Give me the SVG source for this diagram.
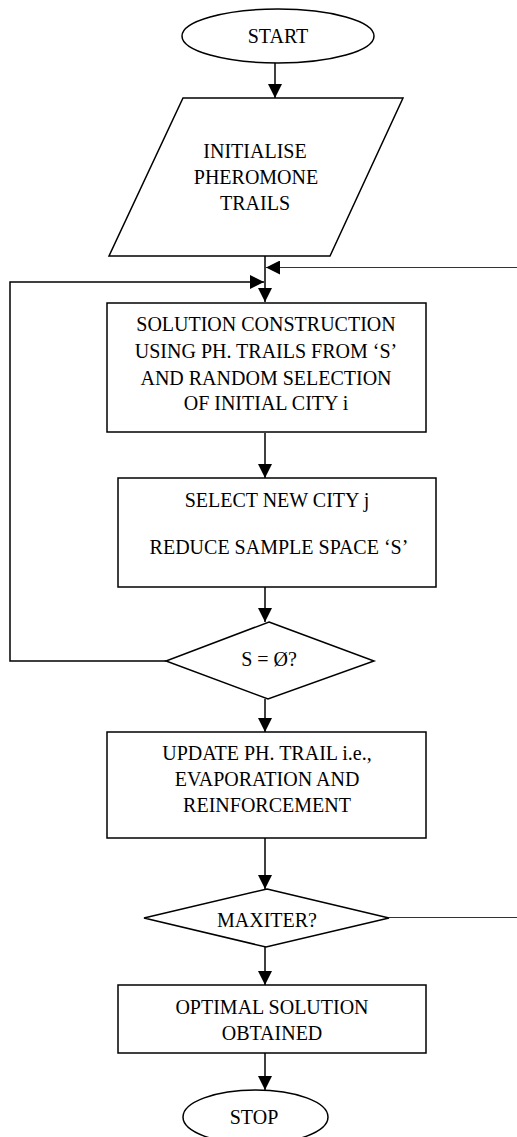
<svg xmlns="http://www.w3.org/2000/svg" width="517" height="1137" viewBox="0 0 517 1137">
<defs>
<marker id="ah" viewBox="0 0 14 14" refX="14" refY="7" markerWidth="14" markerHeight="14" markerUnits="userSpaceOnUse" orient="auto">
<path d="M0,0 L14,7 L0,14 Z" fill="#000"/>
</marker>
<style>
.s{fill:#fff;stroke:#000;stroke-width:1.5}
.t{font-family:"Liberation Serif","Times New Roman",serif;font-size:20px;fill:#000;text-anchor:middle}
.c{fill:none;stroke:#000;stroke-width:1.5}
.g{fill:none;stroke:#333;stroke-width:1}
</style>
</defs>
<rect width="517" height="1137" fill="#fff"/>
<g id="connectors">
<line class="c" x1="275" y1="63" x2="275" y2="98" marker-end="url(#ah)"/>
<line class="c" x1="265" y1="256" x2="265" y2="302" marker-end="url(#ah)"/>
<line class="g" x1="517" y1="267.5" x2="266" y2="267.5" marker-end="url(#ah)"/>
<polyline class="c" points="166,661 10,661 10,282 264,282" marker-end="url(#ah)"/>
<line class="c" x1="265" y1="433" x2="265" y2="478" marker-end="url(#ah)"/>
<line class="c" x1="265" y1="587" x2="265" y2="622" marker-end="url(#ah)"/>
<line class="c" x1="265" y1="699" x2="265" y2="732" marker-end="url(#ah)"/>
<line class="c" x1="265" y1="838" x2="265" y2="889" marker-end="url(#ah)"/>
<line class="g" x1="389" y1="917.5" x2="517" y2="917.5"/>
<line class="c" x1="265" y1="947" x2="265" y2="985" marker-end="url(#ah)"/>
<line class="c" x1="265" y1="1053" x2="265" y2="1090" marker-end="url(#ah)"/>
</g>
<g id="start">
<ellipse class="s" cx="278" cy="36" rx="96" ry="27"/>
<text class="t" x="278" y="43">START</text>
</g>
<g id="init">
<polygon class="s" points="183,98 403,98 330,256 109,256"/>
<text class="t" x="255" y="158">INITIALISE</text>
<text class="t" x="256" y="184">PHEROMONE</text>
<text class="t" x="255" y="210">TRAILS</text>
</g>
<g id="construct">
<rect class="s" x="107" y="303" width="319" height="129"/>
<text class="t" x="266" y="331">SOLUTION CONSTRUCTION</text>
<text class="t" x="266" y="358">USING PH. TRAILS FROM ‘S’</text>
<text class="t" x="266" y="385">AND RANDOM SELECTION</text>
<text class="t" x="266" y="410">OF INITIAL CITY i</text>
</g>
<g id="select">
<rect class="s" x="118" y="478" width="318" height="109"/>
<text class="t" x="277" y="507">SELECT NEW CITY j</text>
<text class="t" x="279" y="554">REDUCE SAMPLE SPACE ‘S’</text>
</g>
<g id="empty">
<polygon class="s" points="269,622 374,661 268,699 166,661"/>
<text class="t" x="269" y="666">S = Ø?</text>
</g>
<g id="update">
<rect class="s" x="107" y="732" width="319" height="106"/>
<text class="t" x="267" y="760">UPDATE PH. TRAIL i.e.,</text>
<text class="t" x="267" y="786">EVAPORATION AND</text>
<text class="t" x="267" y="812">REINFORCEMENT</text>
</g>
<g id="maxiter">
<polygon class="s" points="267,889 389,918 266,947 144,918"/>
<text class="t" x="267" y="927">MAXITER?</text>
</g>
<g id="optimal">
<rect class="s" x="118" y="985" width="308" height="68"/>
<text class="t" x="272" y="1014">OPTIMAL SOLUTION</text>
<text class="t" x="272" y="1040">OBTAINED</text>
</g>
<g id="stop">
<ellipse class="s" cx="255.5" cy="1117" rx="72.5" ry="27"/>
<text class="t" x="254" y="1124">STOP</text>
</g>
</svg>
